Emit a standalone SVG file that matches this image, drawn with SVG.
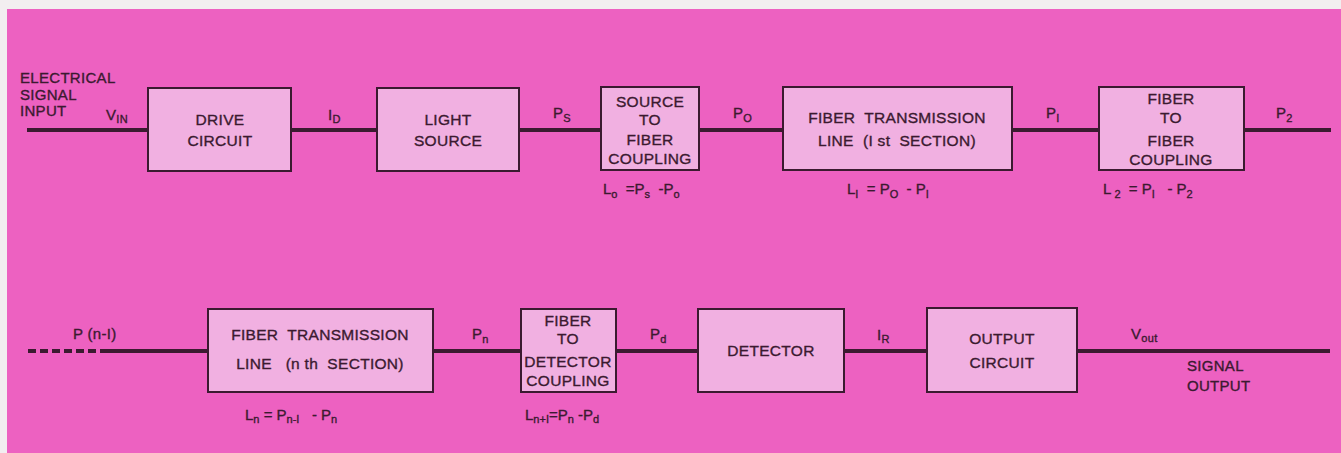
<svg xmlns="http://www.w3.org/2000/svg" width="1341" height="453" viewBox="0 0 1341 453">
<style>
text{font-family:"Liberation Sans",Arial,sans-serif;fill:#3b1a30;stroke:#3b1a30;stroke-width:0.35;white-space:pre}
.b{font-size:15.5px;text-anchor:middle;letter-spacing:0.3px}
.l{font-size:15px;letter-spacing:0.3px}
.e{font-size:15px}
.s{font-size:11px}
.box{fill:#f1b0e1;stroke:#3b1a30;stroke-width:2}
.ln{stroke:#3b1a30;stroke-width:4;fill:none}
</style>
<rect x="0" y="0" width="1341" height="453" fill="#f2eef0"/>
<rect x="7" y="9" width="1334" height="444" fill="#ed61c1"/>
<g id="connectors">
<line class="ln" x1="27" y1="130" x2="148" y2="130"/>
<line class="ln" x1="291" y1="130" x2="377" y2="130"/>
<line class="ln" x1="519" y1="130" x2="601" y2="130"/>
<line class="ln" x1="699" y1="130" x2="783" y2="130"/>
<line class="ln" x1="1012" y1="130" x2="1099" y2="130"/>
<line class="ln" x1="1244" y1="130" x2="1331" y2="130"/>
<line class="ln" x1="28" y1="351" x2="108" y2="351" stroke-dasharray="8,4"/>
<line class="ln" x1="108" y1="351" x2="208" y2="351"/>
<line class="ln" x1="433" y1="351" x2="521" y2="351"/>
<line class="ln" x1="616" y1="351" x2="698" y2="351"/>
<line class="ln" x1="844" y1="351" x2="927" y2="351"/>
<line class="ln" x1="1077" y1="351" x2="1330" y2="351"/>
</g>
<g id="labels">
<text class="l" x="20" y="83">ELECTRICAL</text>
<text class="l" x="20" y="100">SIGNAL</text>
<text class="l" x="20" y="116">INPUT</text>
<text class="l" x="106" y="120">V<tspan class="s" dy="3">IN</tspan></text>
<text class="l" x="328" y="120">I<tspan class="s" dy="3">D</tspan></text>
<text class="l" x="553" y="118">P<tspan class="s" dy="4">S</tspan></text>
<text class="l" x="733" y="118">P<tspan class="s" dy="4">O</tspan></text>
<text class="l" x="1046" y="118">P<tspan class="s" dy="4">I</tspan></text>
<text class="l" x="1276" y="118">P<tspan class="s" dy="4">2</tspan></text>
<text class="l" x="73" y="339">P (n-I)</text>
<text class="l" x="472" y="339">P<tspan class="s" dy="4">n</tspan></text>
<text class="l" x="650" y="339">P<tspan class="s" dy="4">d</tspan></text>
<text class="l" x="877" y="340">I<tspan class="s" dy="3">R</tspan></text>
<text class="l" x="1131" y="339">V<tspan class="s" dy="3">out</tspan></text>
<text class="l" x="1187" y="371">SIGNAL</text>
<text class="l" x="1187" y="391">OUTPUT</text>
<text class="e" x="603" y="194">L<tspan class="s" dy="4">o</tspan><tspan dy="-4">  =P</tspan><tspan class="s" dy="4">s</tspan><tspan dy="-4">  -P</tspan><tspan class="s" dy="4">o</tspan></text>
<text class="e" x="847" y="194">L<tspan class="s" dy="4">I</tspan><tspan dy="-4">  = P</tspan><tspan class="s" dy="4">O</tspan><tspan dy="-4">  - P</tspan><tspan class="s" dy="4">I</tspan></text>
<text class="e" x="1103" y="194">L<tspan class="s" dy="4"> 2</tspan><tspan dy="-4">  = P</tspan><tspan class="s" dy="4">I</tspan><tspan dy="-4">   - P</tspan><tspan class="s" dy="4">2</tspan></text>
<text class="e" x="245" y="420">L<tspan class="s" dy="3">n</tspan><tspan dy="-3"> = P</tspan><tspan class="s" dy="3">n-I</tspan><tspan dy="-3">   - P</tspan><tspan class="s" dy="3">n</tspan></text>
<text class="e" x="525" y="420">L<tspan class="s" dy="3">n+I</tspan><tspan dy="-3">=P</tspan><tspan class="s" dy="3">n</tspan><tspan dy="-3"> -P</tspan><tspan class="s" dy="3">d</tspan></text>
</g>
<g id="drive-circuit">
<rect class="box" x="148" y="88" width="143" height="83"/>
<text class="b" x="220" y="125">DRIVE</text>
<text class="b" x="220" y="146">CIRCUIT</text>
</g>
<g id="light-source">
<rect class="box" x="377" y="88" width="142" height="83"/>
<text class="b" x="448" y="125">LIGHT</text>
<text class="b" x="448" y="146">SOURCE</text>
</g>
<g id="source-to-fiber">
<rect class="box" x="601" y="87" width="98" height="83"/>
<text class="b" x="650" y="107">SOURCE</text>
<text class="b" x="650" y="125">TO</text>
<text class="b" x="650" y="145">FIBER</text>
<text class="b" x="650" y="164">COUPLING</text>
</g>
<g id="fiber-line-1">
<rect class="box" x="783" y="87" width="229" height="83"/>
<text class="b" x="897" y="123">FIBER  TRANSMISSION</text>
<text class="b" x="897" y="146">LINE  (I st  SECTION)</text>
</g>
<g id="fiber-to-fiber">
<rect class="box" x="1099" y="87" width="145" height="83"/>
<text class="b" x="1171" y="104">FIBER</text>
<text class="b" x="1171" y="123">TO</text>
<text class="b" x="1171" y="146">FIBER</text>
<text class="b" x="1171" y="165">COUPLING</text>
</g>
<g id="fiber-line-n">
<rect class="box" x="208" y="309" width="225" height="83"/>
<text class="b" x="320" y="340">FIBER  TRANSMISSION</text>
<text class="b" x="320" y="369">LINE   (n th  SECTION)</text>
</g>
<g id="fiber-to-detector">
<rect class="box" x="521" y="309" width="95" height="83"/>
<text class="b" x="568" y="326">FIBER</text>
<text class="b" x="568" y="344">TO</text>
<text class="b" x="568" y="367">DETECTOR</text>
<text class="b" x="568" y="386">COUPLING</text>
</g>
<g id="detector">
<rect class="box" x="698" y="309" width="146" height="83"/>
<text class="b" x="771" y="356">DETECTOR</text>
</g>
<g id="output-circuit">
<rect class="box" x="927" y="308" width="150" height="84"/>
<text class="b" x="1002" y="344">OUTPUT</text>
<text class="b" x="1002" y="368">CIRCUIT</text>
</g>
</svg>
